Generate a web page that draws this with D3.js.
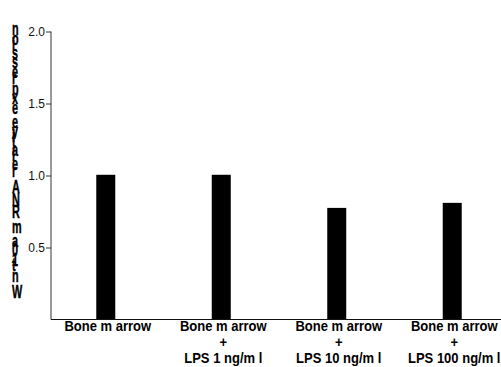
<!DOCTYPE html>
<html><head><meta charset="utf-8">
<script src="https://cdn.jsdelivr.net/npm/d3@7"></script>
<style>body{margin:0;background:#fff}svg{display:block}</style>
</head><body>
<svg id="c" width="501" height="367"></svg>
<script>
const categories = ["Bone m arrow", "Bone m arrow|+|LPS 1 ng/m l", "Bone m arrow|+|LPS 10 ng/m l", "Bone m arrow|+|LPS 100 ng/m l"];
const values = [1.005, 1.005, 0.775, 0.81];
const yTicks = [0.5, 1.0, 1.5, 2.0];
const yTitle = "Wnt10a mRNA relative expression";

const svg = d3.select("#c");
const font = "'Liberation Sans',Arial,sans-serif";
const y = d3.scaleLinear().domain([0, 2]).range([319.5, 31.5]);
const x = d3.scaleBand().domain(categories).range([54, 504]).paddingInner(0.8355).paddingOuter(0.366);

// bars
svg.selectAll("rect.bar").data(values).join("rect")
  .attr("x", (d, i) => x(categories[i]))
  .attr("width", x.bandwidth())
  .attr("y", d => y(d))
  .attr("height", d => y(0) - y(d))
  .attr("fill", "#000");

// y axis
const yAxis = svg.append("g").attr("transform", "translate(51,0)")
  .call(d3.axisLeft(y).tickValues(yTicks).tickFormat(d3.format(".1f")).tickSize(5).tickSizeOuter(0));
yAxis.select(".domain").attr("stroke", "#333").attr("d", `M0,${y(2)}V${y(0)}`);
yAxis.selectAll(".tick line").attr("stroke", "#333");
yAxis.selectAll(".tick text").attr("font-family", font).attr("font-size", 12).attr("fill", "#111").attr("x", -6);

// x baseline
svg.append("line").attr("x1", 51).attr("x2", 501).attr("y1", y(0)).attr("y2", y(0)).attr("stroke", "#111").attr("stroke-width", 1.2);

// x labels
categories.forEach((c, i) => {
  const cx = x(c) + x.bandwidth() / 2 + 2;
  const lines = c.split("|");
  const g = svg.append("g").attr("transform", `translate(${cx},0) scale(0.93,1)`);
  const t = g.append("text").attr("text-anchor", "middle")
    .attr("font-family", font).attr("font-weight", "bold").attr("font-size", 14).attr("fill", "#000");
  lines.forEach((l, j) => {
    t.append("tspan").attr("x", 0).attr("y", 331 + j * 16).text(l);
  });
});

// y title: stacked upright glyphs
svg.append("text")
  .attr("transform", "translate(12,298) scale(0.62,1) rotate(-90)")
  .attr("rotate", "90")
  .attr("font-family", font).attr("font-weight", "bold").attr("font-size", 17.5).attr("fill", "#000")
  .attr("stroke", "#000").attr("stroke-width", 0.4)
  .attr("textLength", 274).attr("lengthAdjust", "spacing")
  .text(yTitle);
</script>
</body></html>
